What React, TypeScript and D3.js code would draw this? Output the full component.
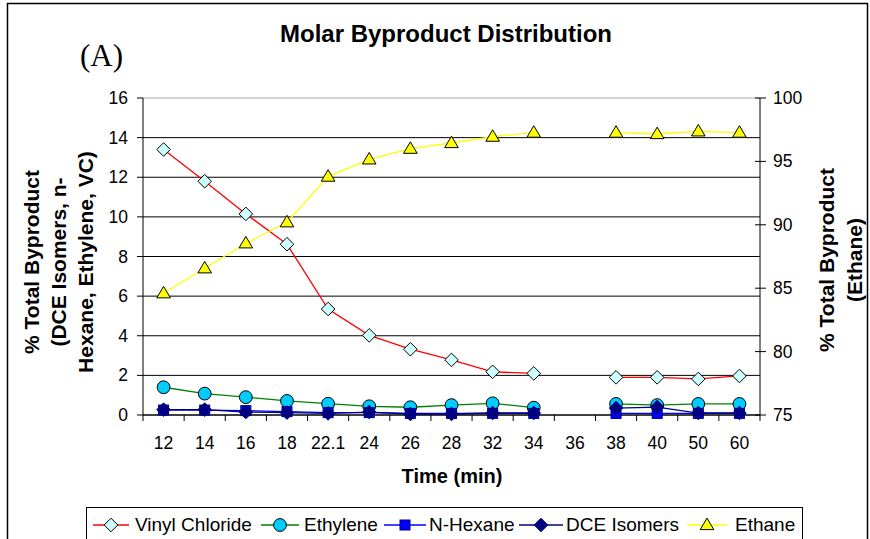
import React from "react";
import * as d3 from "d3";

const categories = ["12", "14", "16", "18", "22.1", "24", "26", "28", "32", "34", "36", "38", "40", "50", "60"];
const vinylChloride: (number | null)[] = [13.4, 11.8, 10.15, 8.62, 5.35, 4.02, 3.32, 2.78, 2.18, 2.1, null, 1.9, 1.9, 1.82, 1.97];
const ethylene: (number | null)[] = [1.4, 1.08, 0.9, 0.71, 0.57, 0.44, 0.39, 0.5, 0.59, 0.37, null, 0.56, 0.5, 0.56, 0.56];
const nHexane: (number | null)[] = [0.25, 0.25, 0.22, 0.17, 0.12, 0.12, 0.08, 0.08, 0.08, 0.08, null, 0.08, 0.08, 0.08, 0.08];
const dceIsomers: (number | null)[] = [0.27, 0.27, 0.15, 0.12, 0.08, 0.15, 0.05, 0.05, 0.1, 0.1, null, 0.35, 0.4, 0.1, 0.1];
const ethane: (number | null)[] = [84.6, 86.57, 88.54, 90.2, 93.8, 95.16, 96.0, 96.45, 96.95, 97.27, null, 97.27, 97.16, 97.37, 97.27];

const leftTicks = [0, 2, 4, 6, 8, 10, 12, 14, 16];
const rightTicks = [75, 80, 85, 90, 95, 100];

const FONT = "'Liberation Sans', Arial, sans-serif";

const X0 = 143, X1 = 760, Y0 = 415, Y1 = 98;

type Shape = "diamond" | "circle" | "square" | "triangle";

function marker(shape: Shape, x: number, y: number, fill: string, stroke: string, key: string) {
  if (shape === "diamond") {
    const r = 6.8;
    return <path key={key} d={`M${x},${y - r}L${x + r},${y}L${x},${y + r}L${x - r},${y}Z`} fill={fill} stroke={stroke} strokeWidth={1} />;
  }
  if (shape === "circle") {
    return <circle key={key} cx={x} cy={y} r={6.4} fill={fill} stroke={stroke} strokeWidth={1} />;
  }
  if (shape === "square") {
    const r = 5;
    return <rect key={key} x={x - r} y={y - r} width={2 * r} height={2 * r} fill={fill} stroke={stroke} strokeWidth={1} />;
  }
  const w = 6.8, h = 11.5;
  return <path key={key} d={`M${x},${y - h * 0.6}L${x + w},${y + h * 0.4}L${x - w},${y + h * 0.4}Z`} fill={fill} stroke={stroke} strokeWidth={1} />;
}

export default function App() {
  const x = d3.scaleBand<string>().domain(categories).range([X0, X1]).padding(0);
  const yL = d3.scaleLinear().domain([0, 16]).range([Y0, Y1]);
  const yR = d3.scaleLinear().domain([75, 100]).range([Y0, Y1]);
  const cx = (i: number) => (x(categories[i]) as number) + x.bandwidth() / 2;

  const series = [
    { name: "Vinyl Chloride", data: vinylChloride, scale: yL, line: "#FF0000", shape: "diamond" as Shape, fill: "#CCFFFF", mstroke: "#000000" },
    { name: "Ethylene", data: ethylene, scale: yL, line: "#008000", shape: "circle" as Shape, fill: "#00CCFF", mstroke: "#000000" },
    { name: "N-Hexane", data: nHexane, scale: yL, line: "#0000FF", shape: "square" as Shape, fill: "#0000FF", mstroke: "#000080" },
    { name: "DCE Isomers", data: dceIsomers, scale: yL, line: "#000080", shape: "diamond" as Shape, fill: "#000080", mstroke: "#000080" },
    { name: "Ethane", data: ethane, scale: yR, line: "#FFFF00", shape: "triangle" as Shape, fill: "#FFFF00", mstroke: "#000000" },
  ];

  const legendItems = [
    { lx: 93, mx: 111, tx: 135 },
    { lx: 261, mx: 280, tx: 304 },
    { lx: 384, mx: 405, tx: 429 },
    { lx: 519, mx: 541, tx: 566 },
    { lx: 687, mx: 707, tx: 735 },
  ];

  return (
    <svg width={870} height={539} style={{ position: "absolute", left: 0, top: 0, background: "#fff" }} fontFamily={FONT}>
      <rect x={0} y={0} width={870} height={539} fill="#fff" />
      <rect x={7.5} y={3.5} width={860} height={600} fill="none" stroke="#000" strokeWidth={1.5} />

      <text x={446} y={42} textAnchor="middle" fontSize={24} fontWeight="bold">Molar Byproduct Distribution</text>
      <text x={80} y={66} fontSize={31} fontFamily="'Liberation Serif', 'Times New Roman', serif">(A)</text>

      {/* gridlines */}
      {leftTicks.map((t) => (
        <line key={"g" + t} x1={X0} x2={X1} y1={yL(t)} y2={yL(t)} stroke={t === 16 ? "#aaa" : "#000"} strokeWidth={1} />
      ))}

      {/* left axis */}
      <line x1={X0} x2={X0} y1={Y1} y2={Y0} stroke="#000" />
      {leftTicks.map((t) => (
        <g key={"lt" + t}>
          <line x1={X0 - 6} x2={X0} y1={yL(t)} y2={yL(t)} stroke="#000" />
          <text x={128} y={yL(t) + 6} textAnchor="end" fontSize={17.5}>{t}</text>
        </g>
      ))}

      {/* right axis */}
      <line x1={X1} x2={X1} y1={Y1} y2={Y0} stroke="#000" />
      {rightTicks.map((t) => (
        <g key={"rt" + t}>
          <line x1={X1 - 5} x2={X1 + 6} y1={yR(t)} y2={yR(t)} stroke="#000" />
          <text x={773} y={yR(t) + 6} fontSize={17.5}>{t}</text>
        </g>
      ))}

      {/* x axis */}
      <line x1={X0} x2={X1} y1={Y0} y2={Y0} stroke="#000" />
      {categories.map((c, i) => (
        <g key={"xt" + c}>
          <line x1={x(c) as number} x2={x(c) as number} y1={Y0} y2={Y0 + 6} stroke="#000" />
          <text x={cx(i)} y={449} textAnchor="middle" fontSize={17.5}>{c}</text>
        </g>
      ))}
      <line x1={X1} x2={X1} y1={Y0} y2={Y0 + 6} stroke="#000" />

      <text x={452} y={483} textAnchor="middle" fontSize={20} fontWeight="bold">Time (min)</text>

      {/* left axis title */}
      <g transform="translate(0,262)">
        {["% Total Byproduct", "(DCE Isomers, n-", "Hexane, Ethylene, VC)"].map((s, i) => (
          <text key={s} transform={`translate(${39 + i * 27},0) rotate(-90)`} textAnchor="middle" fontSize={21} fontWeight="bold">{s}</text>
        ))}
      </g>
      {/* right axis title */}
      <g transform="translate(0,260)">
        {["% Total Byproduct", "(Ethane)"].map((s, i) => (
          <text key={s} transform={`translate(${834 + i * 28},0) rotate(-90)`} textAnchor="middle" fontSize={21} fontWeight="bold">{s}</text>
        ))}
      </g>

      {/* series */}
      {series.map((s) => {
        const line = d3
          .line<number | null>()
          .defined((d) => d != null)
          .x((_, i) => cx(i))
          .y((d) => s.scale(d as number));
        return (
          <g key={s.name}>
            <path d={line(s.data) || ""} fill="none" stroke={s.line} strokeWidth={1.3} />
            {s.data.map((d, i) => (d == null ? null : marker(s.shape, cx(i), s.scale(d), s.fill, s.mstroke, s.name + i)))}
          </g>
        );
      })}

      {/* legend */}
      <rect x={86.5} y={507.5} width={716} height={60} fill="#fff" stroke="#000" strokeWidth={1} />
      {series.map((s, i) => {
        const it = legendItems[i];
        const ly = 525;
        return (
          <g key={"lg" + s.name}>
            <line x1={it.lx} x2={it.mx + (it.mx - it.lx)} y1={ly} y2={ly} stroke={s.line} strokeWidth={1.3} />
            {marker(s.shape, it.mx, ly, s.fill, s.mstroke, "lm" + i)}
            <text x={it.tx} y={531} fontSize={19}>{s.name}</text>
          </g>
        );
      })}
    </svg>
  );
}
